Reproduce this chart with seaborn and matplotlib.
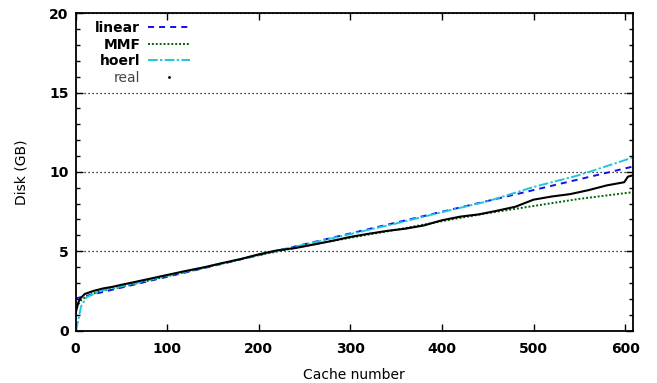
import matplotlib
matplotlib.use("Agg")
import matplotlib.pyplot as plt
from matplotlib.lines import Line2D
from matplotlib.ticker import MultipleLocator
import seaborn as sns
import pandas as pd

# ---- data ----
linear_x = [0, 608]
linear_y = [2.02, 10.33]

mmf_x = [0, 3, 6, 12, 25, 50, 100, 150, 200, 250, 300, 350, 410, 450, 500, 550, 608]
mmf_y = [1.2, 1.65, 1.9, 2.15, 2.45, 2.75, 3.42, 4.08, 4.75, 5.33, 5.85, 6.35, 7.0, 7.4, 7.85, 8.3, 8.72]

hoerl_x = [0, 2.5, 6, 12, 30, 57, 100, 150, 200, 250, 300, 350, 410, 450, 500, 550, 608]
hoerl_y = [0.0, 0.5, 1.5, 2.1, 2.55, 2.87, 3.45, 4.1, 4.78, 5.42, 6.08, 6.75, 7.6, 8.15, 9.05, 9.8, 10.9]

real_x = [0, 1, 3, 5, 10, 20, 30, 40, 50, 60, 80, 100, 120, 140, 160, 180, 200, 220,
          240, 260, 280, 300, 320, 340, 360, 380, 400, 420, 440, 460, 480, 500, 520,
          540, 560, 580, 599, 603, 608]
real_y = [1.0, 1.3, 1.75, 2.0, 2.3, 2.5, 2.65, 2.75, 2.88, 3.0, 3.25, 3.5, 3.75, 3.98,
          4.25, 4.5, 4.8, 5.05, 5.2, 5.42, 5.65, 5.9, 6.1, 6.28, 6.42, 6.62, 6.95, 7.18,
          7.32, 7.55, 7.8, 8.25, 8.45, 8.6, 8.85, 9.15, 9.35, 9.7, 9.78]

series_labels = ["linear", "MMF", "hoerl", "real"]
x_label = "Cache number"
y_label = "Disk (GB)"

# ---- style ----
sns.set_theme(style="ticks")
plt.rcParams["font.family"] = ["DejaVu Sans"]
plt.rcParams["text.color"] = "black"
plt.rcParams["axes.labelcolor"] = "black"
plt.rcParams["xtick.color"] = "black"
plt.rcParams["ytick.color"] = "black"

fig = plt.figure(figsize=(6.57, 3.83), dpi=100)
ax = fig.add_axes([75.5 / 657, 1 - 330.5 / 383, (632.5 - 75.5) / 657, (330.5 - 13.3) / 383])

lw = 1.4
sns.lineplot(x=linear_x, y=linear_y, ax=ax, color="#1010ee", lw=lw,
             ls=(0, (3.1, 2.6)), label=series_labels[0], sort=False, legend=False)
sns.lineplot(x=mmf_x, y=mmf_y, ax=ax, color="#006400", lw=lw,
             ls=(0, (1.0, 1.0)), label=series_labels[1], sort=False, legend=False)
sns.lineplot(x=hoerl_x, y=hoerl_y, ax=ax, color="#1cc8e0", lw=lw,
             ls=(0, (5.0, 1.2, 1.2, 1.2)), label=series_labels[2], sort=False, legend=False)
sns.lineplot(x=real_x, y=real_y, ax=ax, color="black", lw=1.5,
             label=series_labels[3], sort=False, legend=False)

ax.set_xlim(0, 608)
ax.set_ylim(0, 20)
ax.xaxis.set_major_locator(MultipleLocator(100))
ax.yaxis.set_major_locator(MultipleLocator(5))
ax.yaxis.set_minor_locator(MultipleLocator(1))

ax.yaxis.grid(True, which="major", color="black", lw=0.9, ls=(0, (1, 2.2)))
ax.xaxis.grid(False)

for sp in ax.spines.values():
    sp.set_visible(True)
    sp.set_color("black")
    sp.set_linewidth(1.3)

ax.tick_params(which="both", direction="in", top=True, right=True, color="black", width=1.0)
ax.tick_params(which="major", length=5, labelsize=10, pad=5, labelcolor="black")
ax.tick_params(axis="x", which="major", pad=8)
ax.tick_params(which="minor", length=3)
ax.tick_params(axis="x", which="minor", bottom=False, top=False)
for t in ax.get_xticklabels() + ax.get_yticklabels():
    t.set_fontweight("bold")

ax.set_xlabel(x_label, fontsize=10, labelpad=9, color="black")
ax.set_ylabel(y_label, fontsize=10, labelpad=15, color="black")

handles = [ax.lines[0], ax.lines[1], ax.lines[2],
           Line2D([], [], ls="none", marker=".", ms=2, color="black")]
leg = ax.legend(handles, series_labels, loc="upper right",
                bbox_to_anchor=(0.2056, 0.976), markerfirst=False, frameon=False,
                fontsize=10, handlelength=3.0, handletextpad=0.58, labelspacing=0.19,
                borderpad=0, borderaxespad=0)
for i, t in enumerate(leg.get_texts()):
    if i < 3:
        t.set_fontweight("bold")
        t.set_color("black")
    else:
        t.set_color("#444444")

fig.savefig("out.png", dpi=100)
